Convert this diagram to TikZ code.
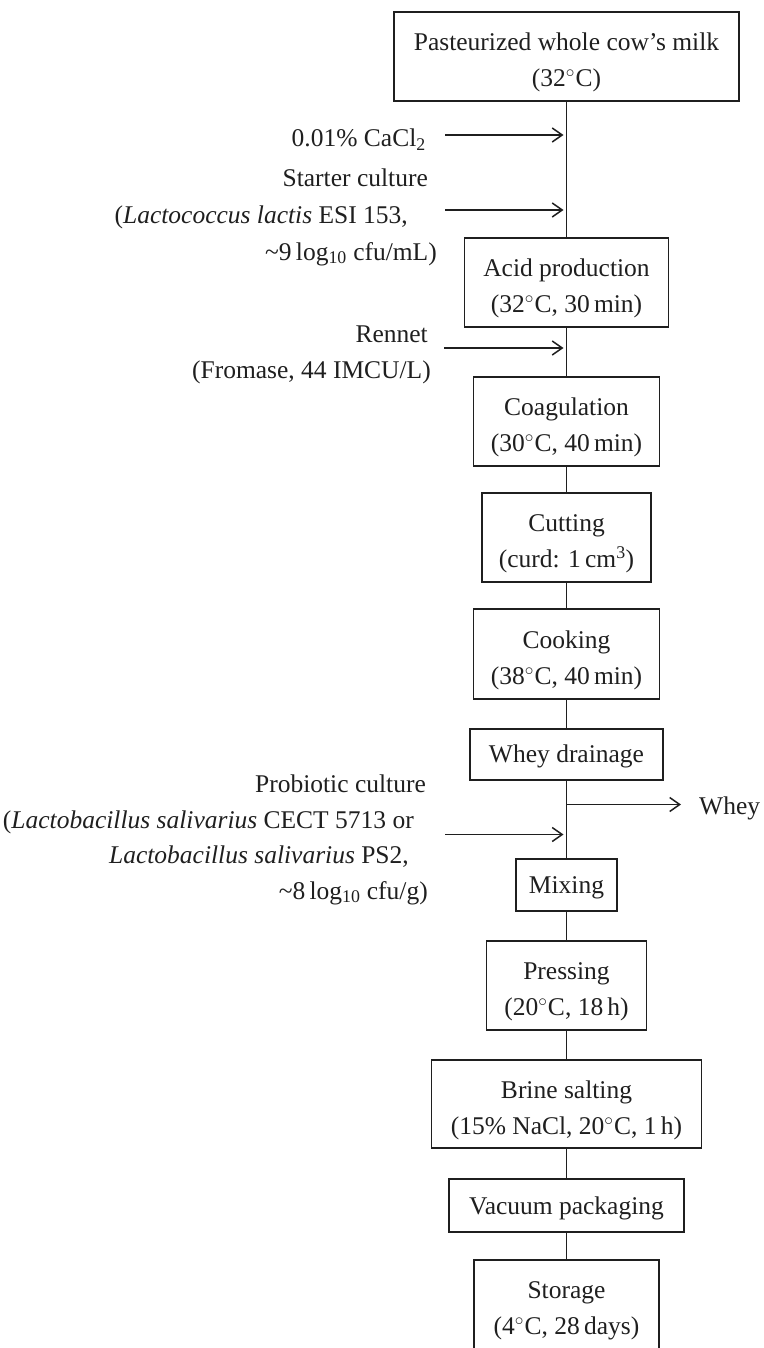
\documentclass[tikz,border=0pt]{standalone}
\usepackage{fontspec}
\setmainfont{Liberation Serif}
\usetikzlibrary{arrows.meta}
\newcommand{\degC}{\ensuremath{^{\circ}}\kern0.6pt C}
\begin{document}
\begin{tikzpicture}[x=1pt,y=-1pt,
  procbox/.style={draw=black!88, line width=1.8pt, inner sep=0pt},
  boxtxt/.style={font=\fontsize{25.5}{36}\selectfont, inner sep=0pt, align=center, text=black!88},
  lt/.style={font=\fontsize{25.5}{36}\selectfont, inner sep=0pt, anchor=base east, text=black!88},
  conn/.style={draw=black!88, line width=1.6pt},
  arr/.style={draw=black!88, line width=1.5pt, -{Straight Barb[length=10pt,width=14pt]}, shorten >=3pt}
]
\useasboundingbox (0,0) rectangle (763,1348);
\clip (0,0) rectangle (763,1348);

% process boxes
\node[procbox, minimum width=345pt, minimum height=89pt] (milk) at (566.5,56.5) {};
\node[procbox, minimum width=204pt, minimum height=89pt] (acid) at (566.5,282.5) {};
\node[procbox, minimum width=186pt, minimum height=89pt] (coag) at (566.5,421.5) {};
\node[procbox, minimum width=169pt, minimum height=89pt] (cut) at (566.5,537.5) {};
\node[procbox, minimum width=186pt, minimum height=90pt] (cook) at (566.5,654) {};
\node[procbox, minimum width=193pt, minimum height=51pt] (whey) at (566.5,754.5) {};
\node[procbox, minimum width=101pt, minimum height=52pt] (mix) at (566.5,885) {};
\node[procbox, minimum width=160pt, minimum height=89pt] (press) at (566.5,985.5) {};
\node[procbox, minimum width=270pt, minimum height=88pt] (brine) at (566.5,1104) {};
\node[procbox, minimum width=235pt, minimum height=53pt] (vac) at (566.5,1205.5) {};
\node[procbox, minimum width=185pt, minimum height=91pt] (stor) at (566.5,1305.5) {};

% box texts
\node[boxtxt, yshift=-6pt] (milkt) at (milk.center) {Pasteurized whole cow’s milk\\(32\degC)};
\node[boxtxt, yshift=-6pt] (acidt) at (acid.center) {Acid production\\(32\degC, 30\,min)};
\node[boxtxt, yshift=-6pt] (coagt) at (coag.center) {Coagulation\\(30\degC, 40\,min)};
\node[boxtxt, yshift=-6pt] (cutt) at (cut.center) {Cutting\\(curd: 1\,cm\textsuperscript{3})};
\node[boxtxt, yshift=-6pt] (cookt) at (cook.center) {Cooking\\(38\degC, 40\,min)};
\node[boxtxt, yshift=-2pt] (wheyt) at (whey.center) {Whey drainage};
\node[boxtxt, yshift=-3pt] (mixt) at (mix.center) {Mixing};
\node[boxtxt, yshift=-6pt] (presst) at (press.center) {Pressing\\(20\degC, 18\,h)};
\node[boxtxt, yshift=-6pt] (brinet) at (brine.center) {Brine salting\\(15\% NaCl, 20\degC, 1\,h)};
\node[boxtxt, yshift=-3pt] (vact) at (vac.center) {Vacuum packaging};
\node[boxtxt, yshift=-6pt] (stort) at ([yshift=1pt]stor.center) {Storage\\(4\degC, 28\,days)};

% main flow
\draw[conn] (milk) -- (acid);
\draw[conn] (acid) -- (coag);
\draw[conn] (coag) -- (cut);
\draw[conn] (cut) -- (cook);
\draw[conn] (cook) -- (whey);
\draw[conn] (whey) -- (mix);
\draw[conn] (mix) -- (press);
\draw[conn] (press) -- (brine);
\draw[conn] (brine) -- (vac);
\draw[conn] (vac) -- (stor);

% side inputs
\node[lt] (cacl) at (426,147) {0.01\% CaCl\textsubscript{2}};
\node[lt] (st1) at (428,187) {Starter culture};
\node[lt] (st2) at (408,224) {(\textit{Lactococcus lactis} ESI 153,};
\node[lt] (st3) at (437,260) {\textasciitilde9\,log\textsubscript{10} cfu/mL)};
\node[lt] (ren1) at (428,342) {Rennet};
\node[lt] (ren2) at (431,378) {(Fromase, 44 IMCU/L)};
\node[lt] (pro1) at (426,792) {Probiotic culture};
\node[lt] (pro2) at (414,828) {(\textit{Lactobacillus salivarius} CECT 5713 or};
\node[lt] (pro3) at (409,863) {\textit{Lactobacillus salivarius} PS2,};
\node[lt] (pro4) at (428,899) {\textasciitilde8\,log\textsubscript{10} cfu/g)};

\coordinate (a1s) at (445,135);   \coordinate (a1e) at (566.5,135);
\coordinate (a2s) at (445,210);   \coordinate (a2e) at (566.5,210);
\coordinate (a3s) at (444,348);   \coordinate (a3e) at (566.5,348);
\coordinate (a4s) at (445,834.5); \coordinate (a4e) at (566.5,834.5);
\draw[arr] (a1s) -- (a1e);
\draw[arr] (a2s) -- (a2e);
\draw[arr] (a3s) -- (a3e);
\draw[arr] (a4s) -- (a4e);

% whey output
\coordinate (ws) at (566.5,804.5);
\coordinate (we) at (684,804.5);
\draw[arr] (ws) -- (we);
\node[font=\fontsize{25.5}{36}\selectfont, inner sep=0pt, anchor=base west, text=black!88] (wheyout) at (699,814) {Whey};
\end{tikzpicture}
\end{document}
